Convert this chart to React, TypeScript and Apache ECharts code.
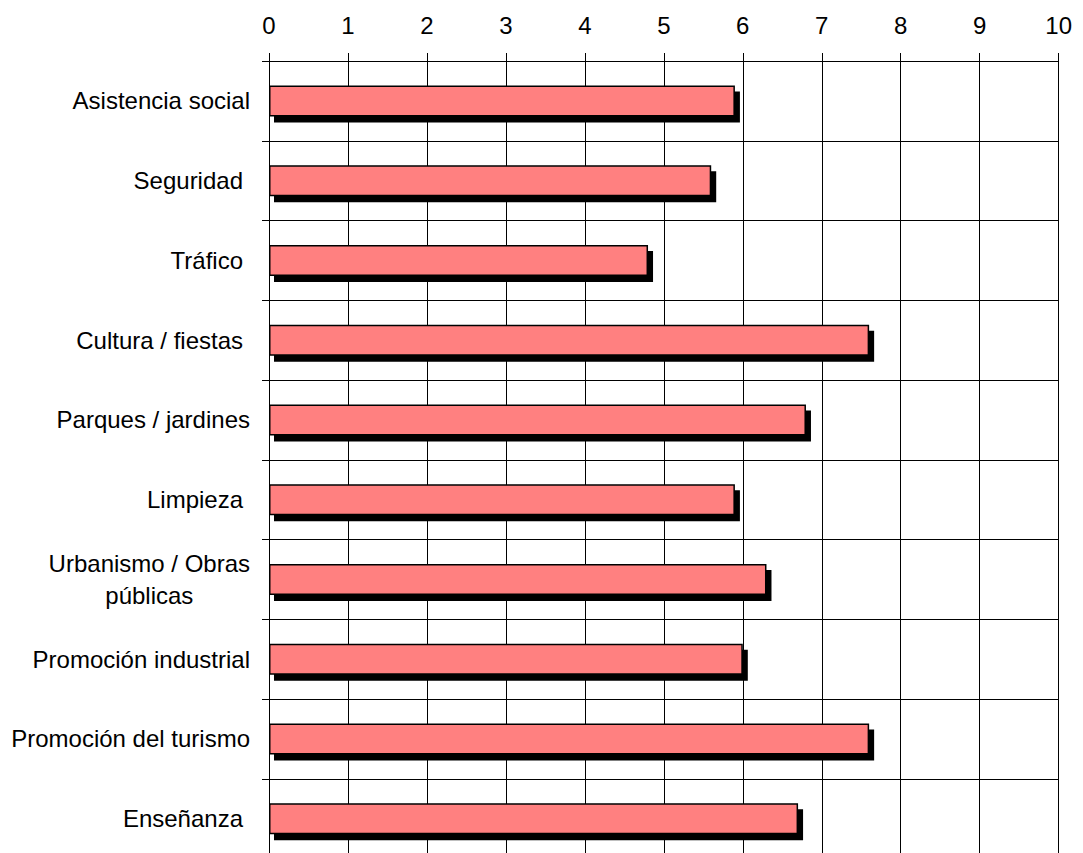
import React, { useEffect, useRef } from "react";
import * as echarts from "echarts";

const categories = [
  "Asistencia social",
  "Seguridad ",
  "Tráfico ",
  "Cultura / fiestas ",
  "Parques / jardines",
  "Limpieza ",
  "Urbanismo / Obras\npúblicas",
  "Promoción industrial",
  "Promoción del turismo",
  "Enseñanza ",
];

const values = [5.9, 5.6, 4.8, 7.6, 6.8, 5.9, 6.3, 6.0, 7.6, 6.7];

const xTicks = [0, 1, 2, 3, 4, 5, 6, 7, 8, 9, 10];

const FONT = "'Liberation Sans', Arial, sans-serif";
const FS = 24;

export default function App() {
  const ref = useRef<HTMLDivElement>(null);

  useEffect(() => {
    document.documentElement.style.overflow = "hidden";
    document.body.style.overflow = "hidden";
    const chart = echarts.init(ref.current!, null, { renderer: "svg" });
    chart.setOption({
      animation: false,
      backgroundColor: "#ffffff",
      textStyle: { fontFamily: FONT },
      grid: { left: 261, top: 53, width: 794.5, height: 797.5, containLabel: false },
      xAxis: {
        type: "value",
        position: "top",
        min: xTicks[0],
        max: xTicks[xTicks.length - 1],
        interval: 1,
        axisLine: { show: true, lineStyle: { color: "#000", width: 1 } },
        axisTick: { show: true, inside: false, length: 8, lineStyle: { color: "#000", width: 1 } },
        axisLabel: {
          show: true,
          color: "#000",
          fontSize: FS,
          fontFamily: FONT,
          margin: 24,
        },
        splitLine: { show: true, lineStyle: { color: "#000", width: 1 } },
      },
      yAxis: {
        type: "category",
        inverse: true,
        data: categories,
        boundaryGap: true,
        axisLine: { show: true, onZero: false, lineStyle: { color: "#000", width: 1 } },
        axisTick: { show: true, inside: false, length: 7, lineStyle: { color: "#000", width: 1 } },
        splitLine: { show: true, lineStyle: { color: "#000", width: 1 } },
        axisLabel: {
          show: true,
          color: "#000",
          fontSize: FS,
          fontFamily: FONT,
          margin: 19,
          align: "right",
          lineHeight: 32,
          interval: 0,
          formatter: (val: string) => {
            const lines = val.split("\n");
            if (lines.length > 1) {
              return lines.map((l) => `{c|${l}}`).join("\n");
            }
            if (/\s$/.test(val)) {
              return `{p|${val.trim()}}`;
            }
            return `{n|${val}}`;
          },
          rich: {
            n: { fontSize: FS, fontFamily: FONT, color: "#000", lineHeight: 32 },
            p: { fontSize: FS, fontFamily: FONT, color: "#000", lineHeight: 32, padding: [0, 7, 0, 0] },
            c: { fontSize: FS, fontFamily: FONT, color: "#000", lineHeight: 32, align: "center" },
          },
        },
      },
      series: [
        {
          type: "bar",
          data: values,
          barWidth: 31,
          itemStyle: {
            color: "#FF8080",
            borderColor: "#000",
            borderWidth: 1.5,
            shadowColor: "#000",
            shadowBlur: 0,
            shadowOffsetX: 5,
            shadowOffsetY: 6,
          },
          emphasis: { disabled: true },
        },
      ],
    });
    return () => chart.dispose();
  }, []);

  return <div ref={ref} style={{ width: 1067, height: 870 }} />;
}
